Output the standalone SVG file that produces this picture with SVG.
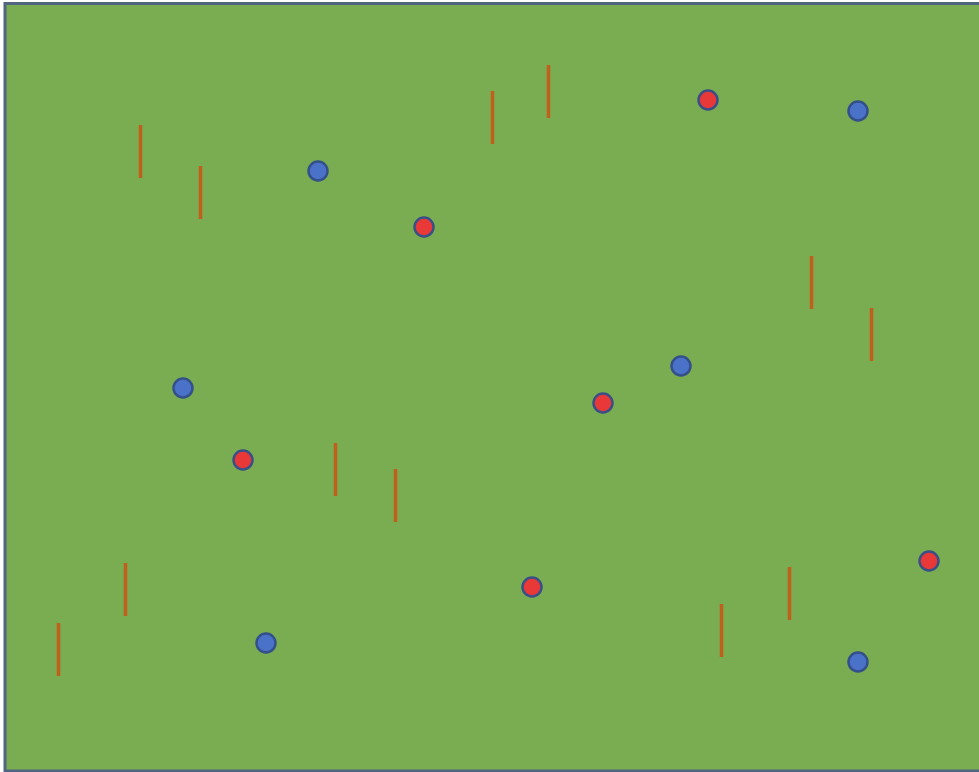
<svg xmlns="http://www.w3.org/2000/svg" width="979" height="772" viewBox="0 0 979 772">
<style>
.bg{fill:#7aac52;stroke:#50667e;stroke-width:3}
.ln{stroke:#c0601c;stroke-width:3.5;stroke-linecap:butt}
.b{fill:#4a72c8;stroke:#34508a;stroke-width:2.5}
.r{fill:#e83838;stroke:#3a4f86;stroke-width:2.5}
</style>
<rect class="bg" x="5" y="3.5" width="980" height="767.5"/>
<g id="lines">
<line class="ln" x1="140.5" y1="125" x2="140.5" y2="178"/>
<line class="ln" x1="200.5" y1="166" x2="200.5" y2="219"/>
<line class="ln" x1="492.5" y1="91" x2="492.5" y2="144"/>
<line class="ln" x1="548.5" y1="65" x2="548.5" y2="118"/>
<line class="ln" x1="811.5" y1="256" x2="811.5" y2="309"/>
<line class="ln" x1="871.5" y1="308" x2="871.5" y2="361"/>
<line class="ln" x1="335.5" y1="443" x2="335.5" y2="496"/>
<line class="ln" x1="395.5" y1="469" x2="395.5" y2="522"/>
<line class="ln" x1="125.5" y1="563" x2="125.5" y2="616"/>
<line class="ln" x1="58.5" y1="623" x2="58.5" y2="676"/>
<line class="ln" x1="721.5" y1="604" x2="721.5" y2="657"/>
<line class="ln" x1="789.5" y1="567" x2="789.5" y2="620"/>
</g>
<g id="blue">
<circle class="b" cx="318" cy="171" r="9.5"/>
<circle class="b" cx="858" cy="111" r="9.5"/>
<circle class="b" cx="183" cy="388" r="9.5"/>
<circle class="b" cx="681" cy="366" r="9.5"/>
<circle class="b" cx="266" cy="643" r="9.5"/>
<circle class="b" cx="858" cy="662" r="9.5"/>
</g>
<g id="red">
<circle class="r" cx="708" cy="100" r="9.5"/>
<circle class="r" cx="424" cy="227" r="9.5"/>
<circle class="r" cx="603" cy="403" r="9.5"/>
<circle class="r" cx="243" cy="460" r="9.5"/>
<circle class="r" cx="532" cy="587" r="9.5"/>
<circle class="r" cx="929" cy="561" r="9.5"/>
</g>
</svg>
